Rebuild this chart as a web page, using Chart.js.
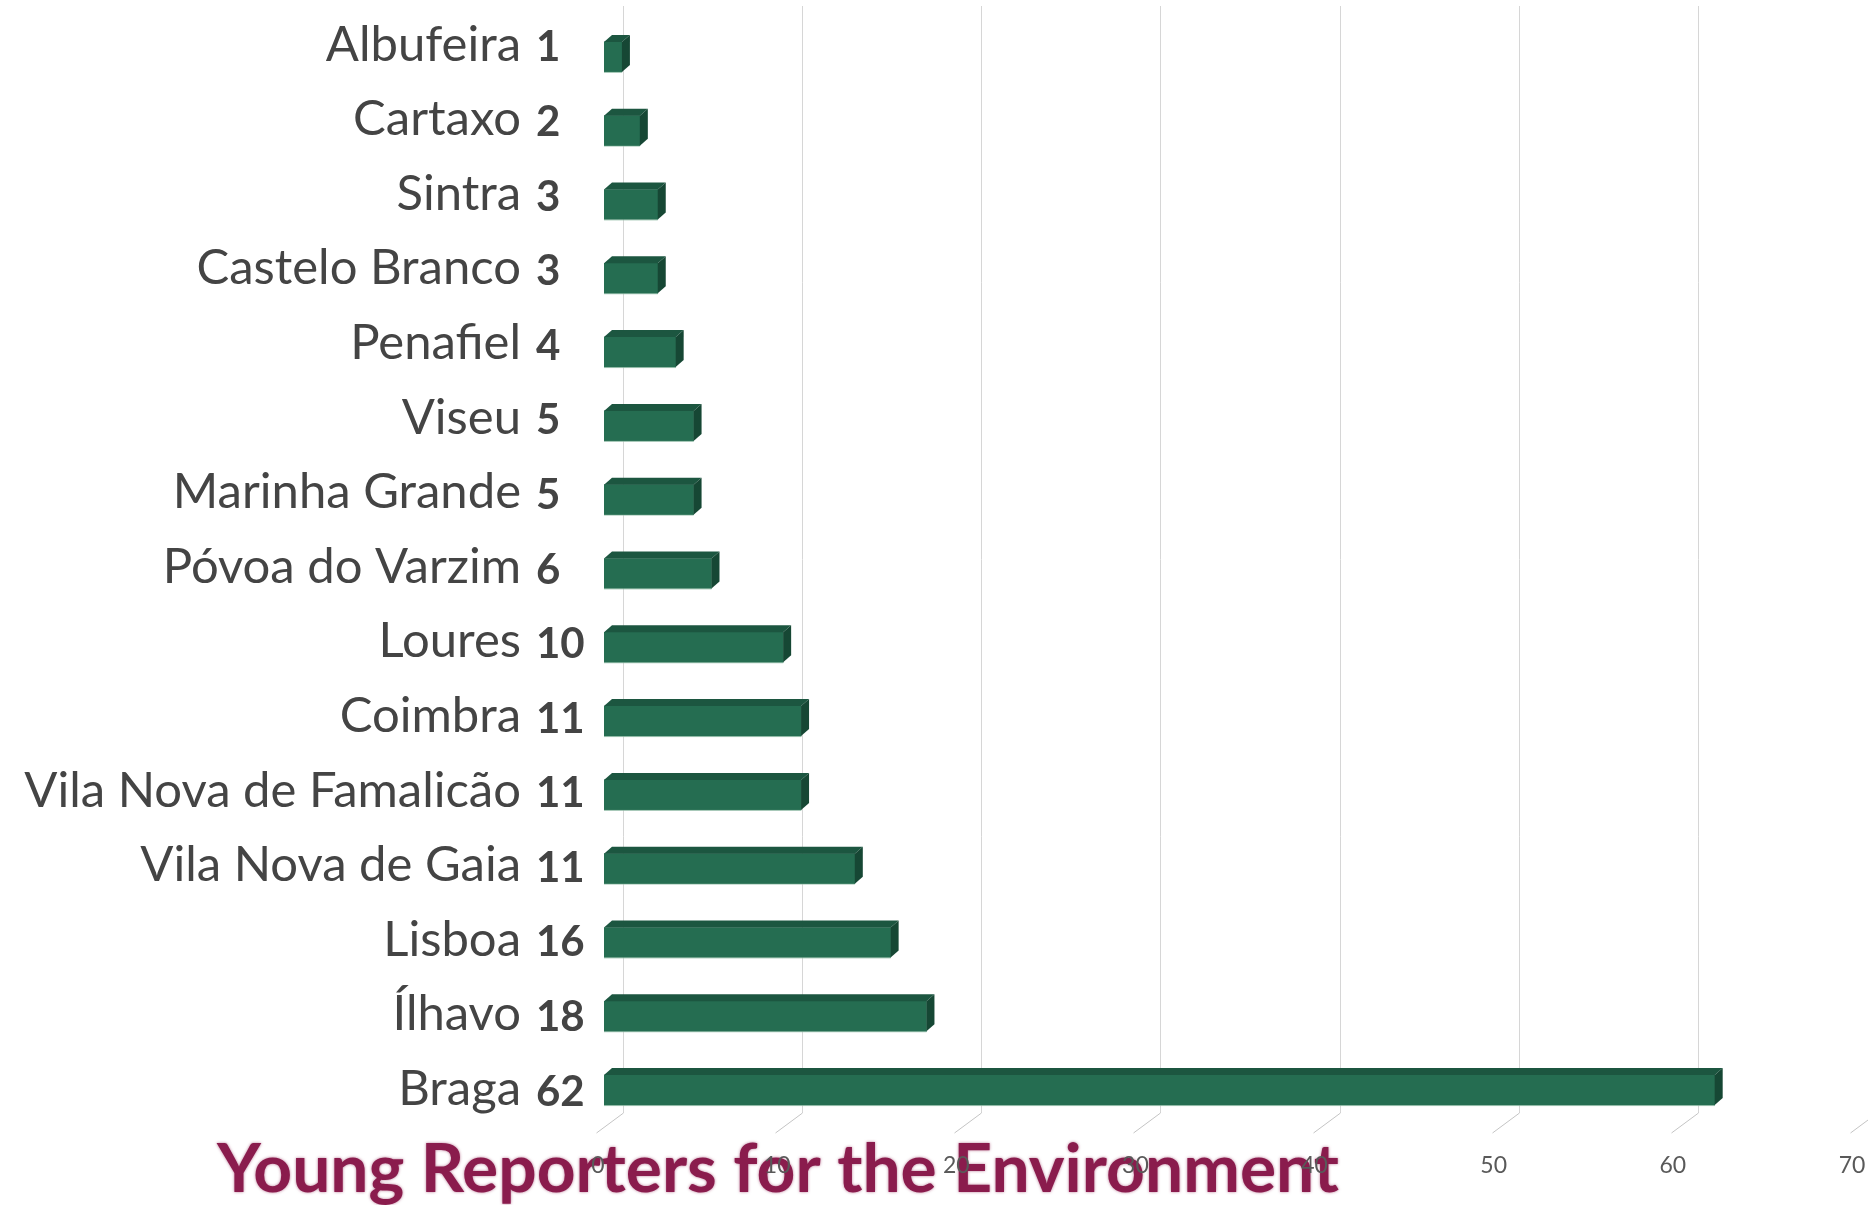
<!DOCTYPE html>
<html>
<head>
<meta charset="utf-8">
<script src="https://cdn.jsdelivr.net/npm/chart.js@4/dist/chart.umd.min.js"></script>
<style>
  html, body { margin: 0; padding: 0; background: #fff; }
  #wrap { width: 1868px; height: 1205px; position: relative; }
</style>
</head>
<body>
<div id="wrap"><canvas id="chart"></canvas></div>
<script>
// cities, top to bottom
const cities = ["Albufeira", "Cartaxo", "Sintra", "Castelo Branco", "Penafiel", "Viseu",
  "Marinha Grande", "Póvoa do Varzim", "Loures", "Coimbra", "Vila Nova de Famalicão",
  "Vila Nova de Gaia", "Lisboa", "Ílhavo", "Braga"];
// numbers printed next to the names
const labelCounts = [1, 2, 3, 3, 4, 5, 5, 6, 10, 11, 11, 11, 16, 18, 62];
// bar lengths as drawn (Gaia's bar is longer than its label)
const barValues = [1, 2, 3, 3, 4, 5, 5, 6, 10, 11, 11, 14, 16, 18, 62];
const xTicks = [0, 10, 20, 30, 40, 50, 60, 70];
const title = "Young Reporters for the Environment";

const green = "#256d51";
const greenTop = "#1c5640";
const greenSide = "#164734";
const depth = { dx: 8, dy: 7 };     // bar top/side faces
const wallShift = 19;               // gridlines sit behind the bars
const floor = { dx: -27, dy: 20 };  // slanted floor ticks

// title sits behind the axis numbers
const titlePlugin = {
  id: "title",
  beforeDraw(chart) {
    const ctx = chart.ctx;
    ctx.save();
    ctx.font = "bold 100px Lato";
    const size = 100 * 1122 / ctx.measureText(title).width;
    ctx.font = `bold ${size}px Lato`;
    ctx.fillStyle = "#8a1c4d";
    ctx.shadowColor = "rgba(138,28,77,0.6)";
    ctx.shadowBlur = 3;
    ctx.textAlign = "left";
    ctx.textBaseline = "alphabetic";
    ctx.fillText(title, 217, 1192);
    ctx.restore();
  }
};

// 3d-ish gridlines: back wall lines + slanted floor ticks
const gridPlugin = {
  id: "grid3d",
  beforeDatasetsDraw(chart) {
    const ctx = chart.ctx;
    const xs = chart.scales.x;
    const bottom = chart.chartArea.bottom - 14;
    ctx.save();
    xTicks.forEach((v) => {
      const gx = Math.round(xs.getPixelForValue(v) + wallShift) + 0.5;
      ctx.strokeStyle = "#d6d6d6";
      ctx.lineWidth = 1;
      ctx.beginPath();
      ctx.moveTo(gx, 6);
      ctx.lineTo(gx, bottom);
      ctx.stroke();
      ctx.strokeStyle = "#c4c4c4";
      ctx.beginPath();
      ctx.moveTo(gx, bottom);
      ctx.lineTo(gx + floor.dx, bottom + floor.dy);
      ctx.stroke();
    });
    ctx.restore();
  }
};

// top and side faces of the bars + the category labels
const facesPlugin = {
  id: "faces",
  afterDatasetsDraw(chart) {
    const ctx = chart.ctx;
    const meta = chart.getDatasetMeta(0);
    ctx.save();
    meta.data.forEach((bar) => {
      const top = bar.y - bar.height / 2;
      const bot = bar.y + bar.height / 2;
      ctx.fillStyle = greenTop;
      ctx.beginPath();
      ctx.moveTo(bar.base, top);
      ctx.lineTo(bar.base + depth.dx, top - depth.dy);
      ctx.lineTo(bar.x + depth.dx, top - depth.dy);
      ctx.lineTo(bar.x, top);
      ctx.closePath();
      ctx.fill();
      ctx.fillStyle = greenSide;
      ctx.beginPath();
      ctx.moveTo(bar.x, top);
      ctx.lineTo(bar.x + depth.dx, top - depth.dy);
      ctx.lineTo(bar.x + depth.dx, bot - depth.dy);
      ctx.lineTo(bar.x, bot);
      ctx.closePath();
      ctx.fill();
      ctx.fillStyle = "rgba(150,190,170,0.7)";
      ctx.fillRect(bar.base, bot, bar.x - bar.base, 1);
    });

    const ys = chart.scales.y;
    ctx.fillStyle = "#444444";
    ctx.textBaseline = "middle";
    cities.forEach((name, i) => {
      const y = ys.getPixelForValue(i) - 12 + 11 * i / (cities.length - 1);
      ctx.font = "49px Lato";
      ctx.textAlign = "right";
      ctx.fillText(name, 521, y);
      ctx.font = "bold 42px Lato";
      ctx.textAlign = "left";
      ctx.fillText(String(labelCounts[i]), 536, y + 3);
    });
    ctx.restore();
  }
};

new Chart(document.getElementById("chart"), {
  type: "bar",
  data: {
    labels: cities,
    datasets: [{
      data: barValues,
      backgroundColor: green,
      barThickness: 30,
      borderWidth: 0,
    }],
  },
  options: {
    indexAxis: "y",
    responsive: true,
    maintainAspectRatio: false,
    animation: false,
    layout: { padding: { left: 604, right: 10, top: 20, bottom: 0 } },
    plugins: { legend: { display: false }, tooltip: { enabled: false } },
    scales: {
      x: {
        min: 0,
        max: 70,
        afterBuildTicks(scale) { scale.ticks = xTicks.map((v) => ({ value: v })); },
        // don't let the last label eat into the plot width
        afterFit(scale) { scale.paddingRight = 0; scale.height = 78; },
        grid: { display: false, drawTicks: false },
        border: { display: false },
        ticks: {
          padding: 25,
          labelOffset: -6,
          color: "#595959",
          font: { family: "Lato", size: 23 },
        },
      },
      y: { display: false },
    },
  },
  plugins: [titlePlugin, gridPlugin, facesPlugin],
});
</script>
</body>
</html>
